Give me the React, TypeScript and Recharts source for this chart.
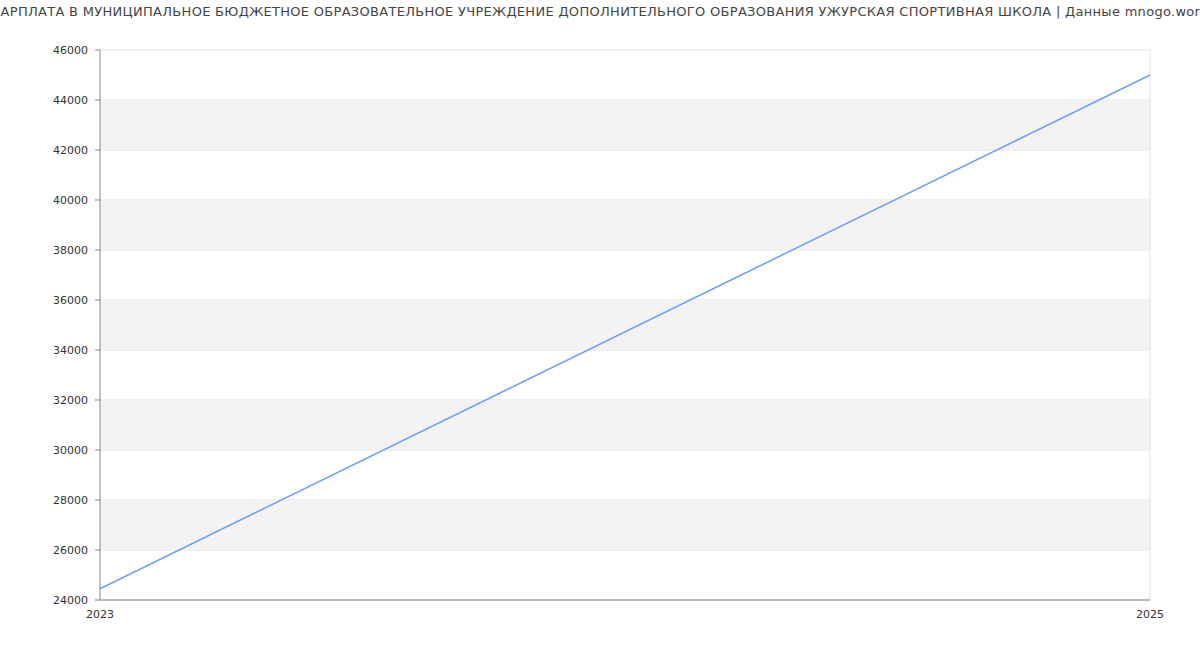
import {
  LineChart,
  Line,
  XAxis,
  YAxis,
  CartesianGrid,
  ReferenceArea,
  ReferenceLine,
} from "recharts";

const TITLE =
  "ЗАРПЛАТА В МУНИЦИПАЛЬНОЕ БЮДЖЕТНОЕ ОБРАЗОВАТЕЛЬНОЕ УЧРЕЖДЕНИЕ ДОПОЛНИТЕЛЬНОГО ОБРАЗОВАНИЯ УЖУРСКАЯ СПОРТИВНАЯ ШКОЛА | Данные mnogo.work";

const years = [2023, 2025];
const salary = [24450, 45000];
const yTicks = [24000, 26000, 28000, 30000, 32000, 34000, 36000, 38000, 40000, 42000, 44000, 46000];
const xTicks = [2023, 2025];

const data = years.map((year, i) => ({ year, salary: salary[i] }));

// shaded band between every other pair of gridlines, starting at 26000
const bands = yTicks
  .slice(0, -1)
  .map((y, i) => [y, yTicks[i + 1]])
  .filter((_, i) => i % 2 === 1);

const FONT = "'DejaVu Sans', sans-serif";

export default function App() {
  const tickStyle = { fill: "#333", fontSize: 11, fontFamily: FONT };

  return (
    <div style={{ position: "absolute", left: 0, top: 0, width: 1200, height: 650, background: "#fff", overflow: "hidden" }}>
      <div
        style={{
          position: "absolute",
          top: 4,
          left: 600,
          transform: "translateX(-50%)",
          whiteSpace: "nowrap",
          fontFamily: FONT,
          fontSize: 13,
          letterSpacing: 0.3,
          color: "#444",
        }}
      >
        {TITLE}
      </div>
      <LineChart width={1200} height={650} data={data} margin={{ top: 50, right: 50, bottom: 0, left: 0 }}>
        {bands.map(([y1, y2]) => (
          <ReferenceArea key={y1} y1={y1} y2={y2} fill="#f3f3f3" fillOpacity={1} stroke="none" />
        ))}
        <CartesianGrid vertical={false} stroke="#e0e0e0" />
        <ReferenceLine x={2025} stroke="#e0e0e0" />
        <XAxis
          dataKey="year"
          type="number"
          domain={[2023, 2025]}
          ticks={xTicks}
          height={50}
          tickLine={false}
          tickSize={0}
          tickMargin={10}
          stroke="#888"
          tick={tickStyle}
        />
        <YAxis
          domain={[24000, 46000]}
          ticks={yTicks}
          width={100}
          tickSize={5}
          tickMargin={7}
          stroke="#888"
          tick={tickStyle}
        />
        <Line
          dataKey="salary"
          type="linear"
          stroke="#6f9ef8"
          strokeWidth={1.5}
          dot={false}
          isAnimationActive={false}
        />
      </LineChart>
    </div>
  );
}
